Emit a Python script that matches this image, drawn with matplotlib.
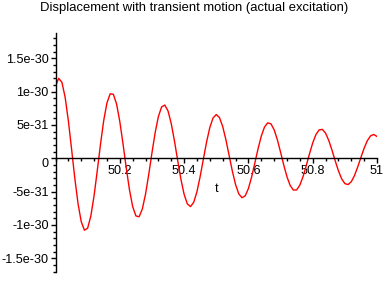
import numpy as np
import matplotlib
matplotlib.use('Agg')
import matplotlib.pyplot as plt
from matplotlib.ticker import MultipleLocator, FixedLocator

plt.rcParams['font.family'] = ['Liberation Sans', 'DejaVu Sans']

# time grid (step 0.01) and displacement, in units of 1e-30
t = np.round(np.arange(50.0, 51.0001, 0.01), 2)
disp = [
    1.084, 1.200, 1.140, 0.915, 0.563, 0.138, -0.297, -0.678, -0.951, -1.080,
    -1.048, -0.865, -0.561, -0.183, 0.213, 0.568, 0.831, 0.968, 0.961, 0.814,
    0.552, 0.217, -0.142, -0.471, -0.724, -0.865, -0.878, -0.762, -0.539, -0.243,
    0.082, 0.386, 0.627, 0.771, 0.799, 0.711, 0.521, 0.260, -0.031, -0.312,
    -0.540, -0.684, -0.725, -0.660, -0.501, -0.272, -0.010, 0.247, 0.462, 0.605,
    0.657, 0.611, 0.478, 0.279, 0.044, -0.191, -0.393, -0.533, -0.592, -0.564,
    -0.454, -0.281, -0.072, 0.143, 0.332, 0.468, 0.532, 0.518, 0.429, 0.280,
    0.093, -0.102, -0.278, -0.409, -0.477, -0.475, -0.403, -0.275, -0.110, 0.067,
    0.230, 0.356, 0.426, 0.434, 0.377, 0.268, 0.122, -0.038, -0.188, -0.308,
    -0.380, -0.395, -0.352, -0.259, -0.130, 0.013, 0.152, 0.265, 0.337, 0.358,
    0.327,
]
y = np.array(disp) * 1e-30

x_ticks = [50.2, 50.4, 50.6, 50.8, 51.0]
x_labels = ['50.2', '50.4', '50.6', '50.8', '51']
y_ticks = [-1.5e-30, -1e-30, -5e-31, 0, 5e-31, 1e-30, 1.5e-30]
y_labels = ['-1.5e-30', '-1e-30', '-5e-31', '0', '5e-31', '1e-30', '1.5e-30']

fig = plt.figure(figsize=(3.88, 2.88), dpi=100)
ax = fig.add_axes([55.5 / 388, 16 / 288, 321.5 / 388, 239 / 288])

ax.plot(t, y, color='#ff0000', lw=1.0)

ax.set_xlim(50, 51)
ax.set_ylim(-1.707e-30, 1.881e-30)

# Maple style axes: x axis at y = 0, y axis at left
ax.spines['top'].set_visible(False)
ax.spines['right'].set_visible(False)
ax.spines['bottom'].set_position(('data', 0))
for s in ['left', 'bottom']:
    ax.spines[s].set_linewidth(1.0)

ax.xaxis.set_major_locator(FixedLocator(x_ticks))
ax.set_xticklabels(x_labels)
ax.xaxis.set_minor_locator(MultipleLocator(0.04))
ax.yaxis.set_major_locator(FixedLocator(y_ticks))
ax.set_yticklabels(y_labels)
ax.yaxis.set_minor_locator(MultipleLocator(1e-31))

ax.tick_params(which='major', length=3.5, width=1, labelsize=9.1, pad=1.5, colors='black')
ax.tick_params(which='minor', length=2, width=1)

for lbl in ax.get_yticklabels():
    if lbl.get_text() == '0':
        lbl.set_va('top')

ax.set_xlabel('t', fontsize=9.1)
ax.xaxis.set_label_coords(0.5, 0.372)
ax.xaxis.label.set_va('top')

fig.text(0.5, 1 - 2.5 / 288, 'Displacement with transient motion (actual excitation)',
         ha='center', va='top', fontsize=9.4)

fig.savefig('out.png', dpi=100)
